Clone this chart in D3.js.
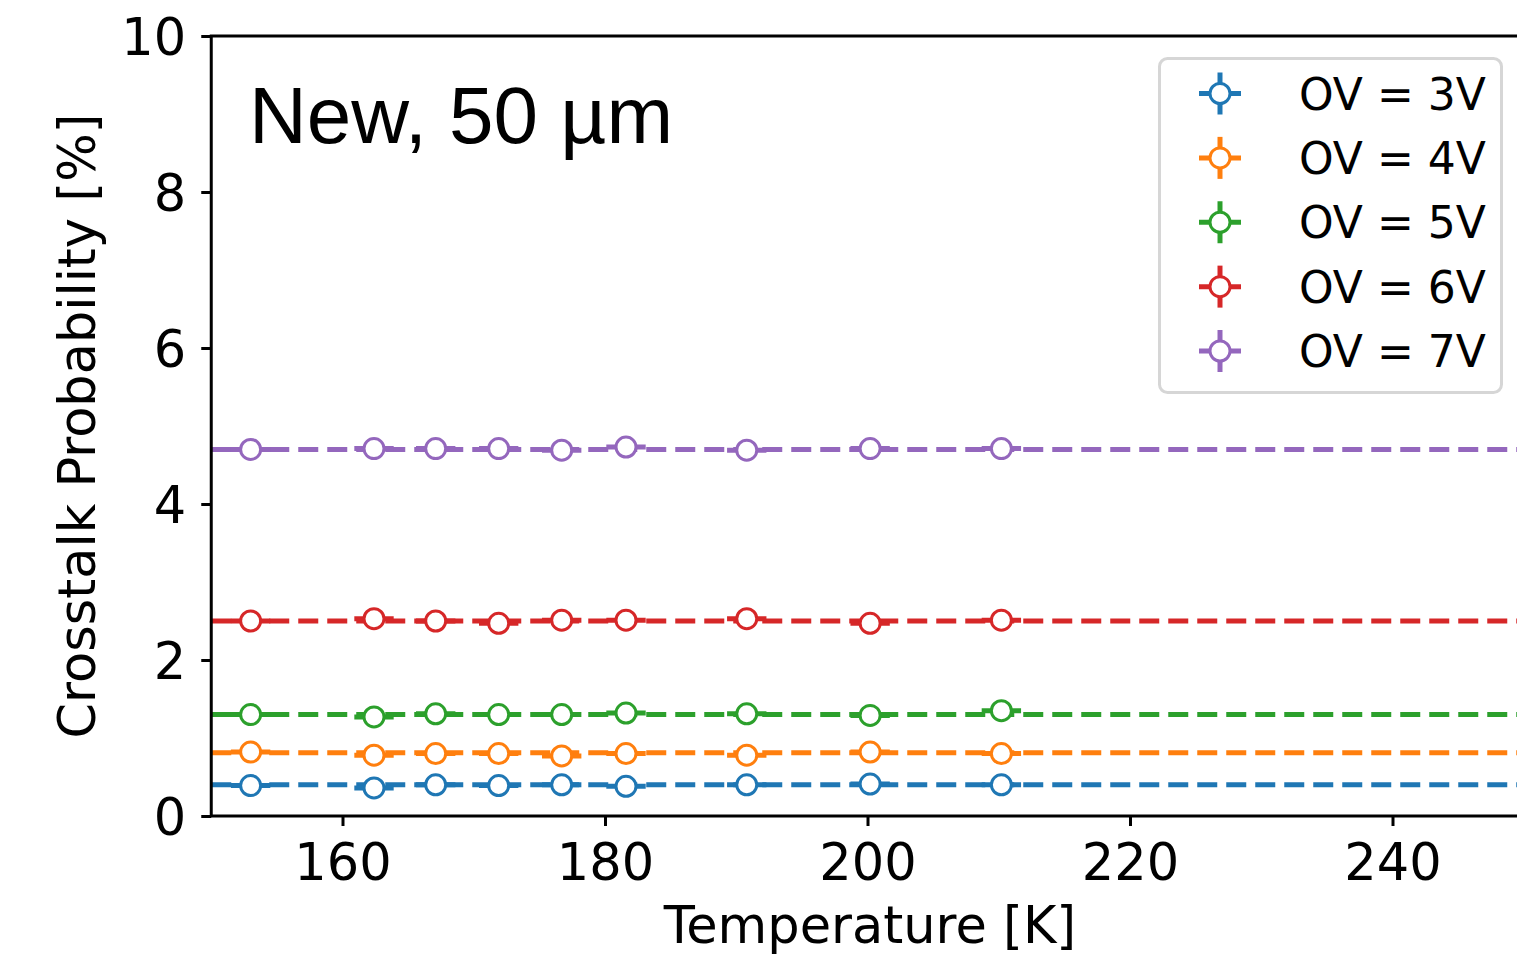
<!DOCTYPE html>
<html>
<head>
<meta charset="utf-8">
<script src="https://cdn.jsdelivr.net/npm/d3@7"></script>
<style>
  html, body { margin: 0; padding: 0; background: #fff; }
  svg { display: block; }
</style>
</head>
<body>
<svg id="chart" width="1517" height="954"></svg>
<script>
// ---- data ----
const temperatures = [153.0, 162.4, 167.1, 171.9, 176.7, 181.6, 190.8, 200.2, 210.2];
const tempErr = 1.5;
const seriesLabels = ["OV = 3V", "OV = 4V", "OV = 5V", "OV = 6V", "OV = 7V"];
const seriesColors = ["#1f77b4", "#ff7f0e", "#2ca02c", "#d62728", "#9467bd"];
const ov3 = [0.39, 0.36, 0.40, 0.39, 0.40, 0.38, 0.40, 0.41, 0.40];
const ov4 = [0.82, 0.78, 0.80, 0.80, 0.77, 0.80, 0.78, 0.82, 0.80];
const ov5 = [1.30, 1.27, 1.31, 1.30, 1.30, 1.32, 1.31, 1.29, 1.35];
const ov6 = [2.50, 2.53, 2.50, 2.47, 2.51, 2.51, 2.53, 2.47, 2.51];
const ov7 = [4.70, 4.71, 4.71, 4.71, 4.69, 4.73, 4.69, 4.71, 4.71];
const fitValues = [0.40, 0.81, 1.30, 2.50, 4.70];
const xTicks = [160, 180, 200, 220, 240];
const yTicks = [0, 2, 4, 6, 8, 10];
const xDomain = [150, 250];
const yDomain = [0, 10];
const annotation = "New, 50 \u00b5m";
const xLabel = "Temperature [K]";
const yLabel = "Crosstalk Probability [%]";

const seriesValues = [ov3, ov4, ov5, ov6, ov7];

(function () {
// ---- layout ----
const svg = d3.select("#chart");
const mLeft = 211.25, mTop = 36, mBottom = 816, mRight = 1523.75;
const x = d3.scaleLinear().domain(xDomain).range([mLeft, mRight]);
const y = d3.scaleLinear().domain(yDomain).range([mBottom, mTop]);
const tickFont = "'DejaVu Sans', sans-serif";
const fs = 51;

// fit lines
const g = svg.append("g");
seriesValues.forEach((vals, i) => {
  g.append("line")
    .attr("x1", x(xDomain[0])).attr("x2", x(xDomain[1]))
    .attr("y1", y(fitValues[i])).attr("y2", y(fitValues[i]))
    .attr("stroke", seriesColors[i]).attr("stroke-width", 5)
    .attr("stroke-dasharray", "20,9");
});

// error bars + markers
seriesValues.forEach((vals, i) => {
  const pts = temperatures.map((t, j) => ({ t, v: vals[j] }));
  const sg = g.append("g");
  sg.selectAll("line.err").data(pts).join("line")
    .attr("class", "err")
    .attr("x1", d => x(d.t - tempErr)).attr("x2", d => x(d.t + tempErr))
    .attr("y1", d => y(d.v)).attr("y2", d => y(d.v))
    .attr("stroke", seriesColors[i]).attr("stroke-width", 5);
  sg.selectAll("circle").data(pts).join("circle")
    .attr("cx", d => x(d.t)).attr("cy", d => y(d.v)).attr("r", 10)
    .attr("fill", "#fff").attr("stroke", seriesColors[i]).attr("stroke-width", 3);
});

// axes
const xAxis = svg.append("g").attr("transform", `translate(0,${mBottom})`)
  .call(d3.axisBottom(x).tickValues(xTicks).tickSize(10).tickSizeOuter(0).tickPadding(0));
xAxis.select(".domain").remove();
xAxis.selectAll(".tick line").attr("stroke", "#000").attr("stroke-width", 3);
xAxis.selectAll(".tick text").attr("y", 64).attr("dy", null)
  .attr("font-family", tickFont).attr("font-size", fs).attr("fill", "#000");

const yAxis = svg.append("g").attr("transform", `translate(${mLeft},0)`)
  .call(d3.axisLeft(y).tickValues(yTicks).tickSize(10).tickSizeOuter(0).tickPadding(0));
yAxis.select(".domain").remove();
yAxis.selectAll(".tick line").attr("stroke", "#000").attr("stroke-width", 3);
yAxis.selectAll(".tick text").attr("x", -25).attr("dy", "0.36em")
  .attr("font-family", tickFont).attr("font-size", fs).attr("fill", "#000");

// spines
svg.append("rect").attr("x", mLeft).attr("y", mTop)
  .attr("width", mRight - mLeft).attr("height", mBottom - mTop)
  .attr("fill", "none").attr("stroke", "#000").attr("stroke-width", 3);

// axis labels
svg.append("text").attr("x", 870).attr("y", 943)
  .attr("text-anchor", "middle").attr("font-family", tickFont).attr("font-size", fs)
  .text(xLabel);
svg.append("text").attr("transform", `translate(95,${(mTop + mBottom) / 2}) rotate(-90)`)
  .attr("text-anchor", "middle").attr("font-family", tickFont).attr("font-size", fs)
  .text(yLabel);

// annotation
svg.append("text").attr("x", 249).attr("y", 143)
  .attr("font-family", "'Liberation Sans', Arial, sans-serif").attr("font-size", 80)
  .text(annotation);

// legend
const lg = svg.append("g");
lg.append("rect").attr("x", 1159.5).attr("y", 58.5).attr("width", 342).attr("height", 334)
  .attr("rx", 8).attr("ry", 8).attr("fill", "#fff").attr("fill-opacity", 0.8)
  .attr("stroke", "#d6d6d6").attr("stroke-width", 3);
const rowY = d3.scaleLinear().domain([0, 4]).range([93.5, 351]);
seriesLabels.forEach((lab, i) => {
  const cy = rowY(i), cx = 1220;
  lg.append("line").attr("x1", cx - 21).attr("x2", cx + 21).attr("y1", cy).attr("y2", cy)
    .attr("stroke", seriesColors[i]).attr("stroke-width", 5);
  lg.append("line").attr("x1", cx).attr("x2", cx).attr("y1", cy - 21).attr("y2", cy + 21)
    .attr("stroke", seriesColors[i]).attr("stroke-width", 5);
  lg.append("circle").attr("cx", cx).attr("cy", cy).attr("r", 10)
    .attr("fill", "#fff").attr("stroke", seriesColors[i]).attr("stroke-width", 3);
  lg.append("text").attr("x", 1299).attr("y", cy + 16)
    .attr("font-family", tickFont).attr("font-size", 44).attr("fill", "#000")
    .style("white-space", "pre")
    .text(lab);
});
})();
</script>
</body>
</html>
